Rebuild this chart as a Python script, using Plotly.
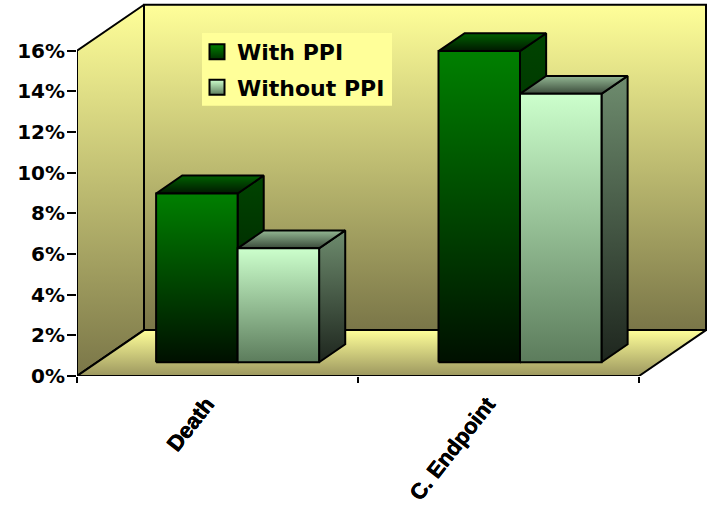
import plotly.graph_objects as go

categories = ["Death", "C. Endpoint"]
with_ppi = [8.3, 15.3]
without_ppi = [5.6, 13.2]
group_centres = [0.5, 1.505]
y_ticks = [0, 2, 4, 6, 8, 10, 12, 14, 16]
y_tick_labels = ["0%", "2%", "4%", "6%", "8%", "10%", "12%", "14%", "16%"]

# Pixel scale of the axes and oblique projection of the chart box
X_UNIT = 281
Y_UNIT = 20.36
DEPTH_X = 67 / X_UNIT
DEPTH_Y = 46 / Y_UNIT
BAR_WIDTH = 0.29
BAR_Z0, BAR_Z1 = 0.30, 0.69
Y_MAX = 16
N = len(categories)
X_SPAN = 632 / X_UNIT
Y_SPAN = 376.5 / Y_UNIT

# Thin outline that thickens the bold lettering
HEAVY = "0.4px 0 0 #000000, -0.3px 0 0 #000000"


def project(x, y, z):
    return x + z * DEPTH_X, y + z * DEPTH_Y


def vscale(bottom, top):
    return [[0, bottom], [1, top]]


def face(fig, corners, bottom, top, width=2):
    pts = [project(*c) for c in corners]
    pts.append(pts[0])
    fig.add_trace(go.Scatter(
        x=[p[0] for p in pts], y=[p[1] for p in pts],
        mode="lines", fill="toself",
        fillgradient=dict(type="vertical", colorscale=vscale(bottom, top)),
        line=dict(color="#000000", width=width),
        showlegend=False, hoverinfo="skip", cliponaxis=False,
    ))


def bar(fig, x0, x1, v, front, side, top):
    z0, z1 = BAR_Z0, BAR_Z1
    face(fig, [(x1, 0, z0), (x1, 0, z1), (x1, v, z1), (x1, v, z0)], *side)
    face(fig, [(x0, v, z0), (x1, v, z0), (x1, v, z1), (x0, v, z1)], *top)
    face(fig, [(x0, 0, z0), (x1, 0, z0), (x1, v, z0), (x0, v, z0)], *front)


fig = go.Figure()

# Walls and floor
WALL = ("#7A7648", "#FFFF99")
face(fig, [(0, 0, 0), (0, Y_MAX, 0), (0, Y_MAX, 1), (0, 0, 1)], *WALL)
face(fig, [(0, 0, 1), (N, 0, 1), (N, Y_MAX, 1), (0, Y_MAX, 1)], *WALL)
face(fig, [(0, 0, 0), (N, 0, 0), (N, 0, 1), (0, 0, 1)], "#9C975F", "#FFFF99")

DARK = dict(front=("#001000", "#008000"), side=("#001400", "#004400"), top=("#001800", "#006000"))
LIGHT = dict(front=("#5C7C5C", "#CCFFCC"), side=("#1E261E", "#6E8C6E"), top=("#3A4A3A", "#94B894"))

for i, centre in enumerate(group_centres):
    bar(fig, centre - BAR_WIDTH, centre, with_ppi[i], **DARK)
    bar(fig, centre, centre + BAR_WIDTH, without_ppi[i], **LIGHT)

# Legend entries
for name, colour, shade in [("With PPI", "#008000", "#003000"), ("Without PPI", "#CCFFCC", "#5C7C5C")]:
    fig.add_trace(go.Scatter(
        x=[None], y=[None], mode="markers", name=name, legendgroup=name,
        marker=dict(symbol="square", size=15, color=colour,
                    gradient=dict(type="vertical", color=shade),
                    line=dict(color="#000000", width=2)),
    ))

fig.update_layout(
    width=709, height=506,
    margin=dict(l=77, r=0, t=0, b=129.5, pad=0),
    paper_bgcolor="#FFFFFF", plot_bgcolor="rgba(0,0,0,0)",
    font=dict(family="DejaVu Sans", color="#000000"),
    legend=dict(
        x=(197 - 77) / 632, y=1 - 31 / 376.5, xanchor="left", yanchor="top",
        bgcolor="rgba(0,0,0,0)", borderwidth=0, tracegroupgap=4, itemwidth=30,
        font=dict(family="DejaVu Sans", size=22, weight="bold"),
    ),
    # Panel behind the legend entries
    shapes=[dict(type="rect", xref="paper", yref="paper",
                 x0=(202 - 77) / 632, x1=(392 - 77) / 632,
                 y0=1 - 106 / 376.5, y1=1 - 33 / 376.5,
                 fillcolor="#FFFF99", line=dict(width=0), layer="above")],
    xaxis=dict(
        range=[0, X_SPAN], showgrid=False, zeroline=False, showline=False,
        tickmode="array", tickvals=[i + 0.5 for i in range(N)], ticktext=categories,
        ticks="", tickangle=-52, ticklabelstandoff=10, ticklabelshift=-11,
        tickfont=dict(family="Liberation Sans", size=22, weight="bold", shadow=HEAVY),
        minor=dict(tickmode="array", tickvals=list(range(N + 1)), ticks="outside",
                   ticklen=6, tickwidth=2, tickcolor="#000000", showgrid=False),
    ),
    yaxis=dict(
        range=[0, Y_SPAN], showgrid=False, zeroline=False, showline=False,
        tickmode="array", tickvals=y_ticks, ticktext=y_tick_labels,
        ticks="outside", ticklen=9, tickwidth=2, tickcolor="#000000", ticklabelstandoff=-2,
        tickfont=dict(family="DejaVu Sans", size=20, weight="bold"),
    ),
)

fig.write_html("out.html")
